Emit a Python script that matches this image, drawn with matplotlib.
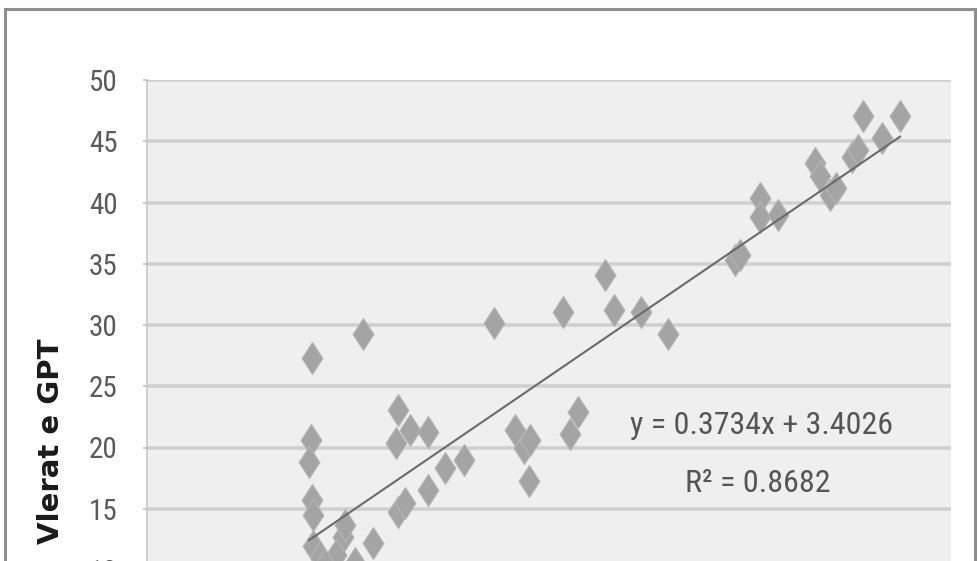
import matplotlib
matplotlib.use("Agg")
import matplotlib.pyplot as plt
from matplotlib import font_manager as fm
from matplotlib.path import Path
from matplotlib.patches import Rectangle
import numpy as np

# Data
x_vals = [24.6, 24.5, 24.2, 24.6, 24.8, 24.8, 25.8, 29.3, 29.6, 28.2, 33.7,
          32.2, 37.5, 37.2, 39.3, 41.9, 37.5, 38.5, 41.9, 44.5, 47.3, 51.8,
          55.0, 56.2, 57.2, 57.0, 62.1, 63.1, 64.3, 68.4, 69.7, 73.7, 77.8,
          87.8, 88.5, 91.5, 91.5, 94.2, 99.7, 100.4, 101.9, 102.8, 105.2,
          106.1, 106.8, 109.7, 112.4, 26.5, 31.0]
y_vals = [27.3, 20.6, 18.8, 15.7, 14.5, 12.0, 11.1, 12.7, 13.7, 11.2, 12.2,
          29.3, 23.1, 20.4, 21.4, 21.3, 14.7, 15.5, 16.5, 18.3, 19.0, 30.2,
          21.4, 20.0, 20.6, 17.3, 31.1, 21.1, 22.9, 34.1, 31.2, 31.1, 29.3,
          35.3, 35.7, 40.4, 38.8, 39.0, 43.2, 42.2, 40.6, 41.2, 43.7,
          44.3, 47.1, 45.3, 47.1, 10.4, 10.6]

slope = 0.3734
intercept = 3.4026
r_squared = 0.8682

y_ticks = [0, 5, 10, 15, 20, 25, 30, 35, 40, 45, 50]
y_label = "Vlerat e GPT"

# Pick a narrow face for the numbers if one is available
entries = fm.fontManager.ttflist
names = {f.name for f in entries}
narrow_kw = None
for fam in ["Liberation Sans Narrow", "Roboto Condensed", "Open Sans Condensed",
            "Arial Narrow"]:
    if fam in names:
        narrow_kw = dict(family=fam)
        break
if narrow_kw is None:
    if any(f.name == "DejaVu Sans" and "condensed" in str(f.stretch) for f in entries):
        narrow_kw = dict(family="DejaVu Sans", stretch="condensed")
    elif any(f.name == "Roboto" and "condensed" in str(f.stretch) for f in entries):
        narrow_kw = dict(family="Roboto", stretch="condensed")
    else:
        narrow_kw = dict(family="DejaVu Sans")
is_narrow = "stretch" in narrow_kw or narrow_kw["family"] != "DejaVu Sans"
tick_size = 21 if is_narrow else 16
eq_size = 23 if is_narrow else 18

W, H = 979, 561
fig = plt.figure(figsize=(W / 100, H / 100), dpi=100)
fig.patch.set_facecolor("white")

# Outer chart-area frame
fig.add_artist(Rectangle((5 / W, -0.1), (975 - 5) / W, 1.1 - 9 / H,
                         transform=fig.transFigure, fill=False,
                         edgecolor="#8e8e8e", linewidth=2.2))

# Plot area: top at y=50, extends past the lower edge of the figure
left_px, right_px, top_px = 147, 951, 80
px_per_unit = 12.25
bottom_px = top_px + 50 * px_per_unit
ax = fig.add_axes([left_px / W, 1 - bottom_px / H,
                   (right_px - left_px) / W, (bottom_px - top_px) / H])
ax.set_facecolor("#efefef")
ax.set_xlim(0, 120)
ax.set_ylim(0, 50)

for s in ["top", "right", "bottom"]:
    ax.spines[s].set_visible(False)
ax.spines["left"].set_color("#c8c8c8")
ax.spines["left"].set_linewidth(1.2)

ax.set_yticks(y_ticks)
ax.set_yticklabels([str(t) for t in y_ticks])
ax.tick_params(axis="y", direction="out", length=3, width=1.2, color="#bdbdbd",
               pad=18, labelcolor="#5a5a5a", labelsize=tick_size)
for lbl in ax.get_yticklabels():
    lbl.set_family(narrow_kw["family"])
    if "stretch" in narrow_kw:
        lbl.set_stretch(narrow_kw["stretch"])
ax.set_xticks([])

ax.grid(axis="y", color="#d0d0d0", linewidth=2.6)
ax.set_axisbelow(True)

# Tall diamond marker
diamond = Path([(0, 1), (0.65, 0), (0, -1), (-0.65, 0), (0, 1)],
               [Path.MOVETO, Path.LINETO, Path.LINETO, Path.LINETO, Path.CLOSEPOLY])
ax.plot(x_vals, y_vals, linestyle="none", marker=diamond, markersize=23,
        markerfacecolor="#a4a4a4", markeredgecolor="#b4b4b4",
        markeredgewidth=0.8, zorder=3)

# Linear trend line over the data range
xs = np.array([min(x_vals), max(x_vals)])
ax.plot(xs, slope * xs + intercept, color="#6a6a6a", linewidth=1.5, zorder=4)

ax.text(91.8, 21.8, f"y = {slope}x + {intercept}", ha="center", va="center",
        fontsize=eq_size, color="#555555", zorder=5, **narrow_kw)
ax.text(91.2, 17.1, f"R² = {r_squared}", ha="center", va="center",
        fontsize=eq_size, color="#555555", zorder=5, **narrow_kw)

fig.text(51 / W, 1 - 441 / H, y_label, rotation=90, ha="center", va="center",
         fontsize=21, fontweight="bold", color="#1a1a1a", family="DejaVu Sans")

fig.savefig("out.png", dpi=100)
